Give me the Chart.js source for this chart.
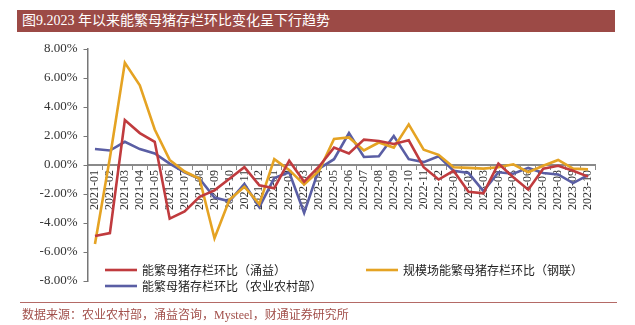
<!DOCTYPE html>
<html>
<head>
<meta charset="utf-8">
<script src="https://cdn.jsdelivr.net/npm/chart.js"></script>
<style>
    body { margin: 0; background: #fff; }
    #wrap { position: relative; width: 635px; height: 325px; overflow: hidden; }
    #chart { position: absolute; left: 0; top: 0; }
    #title {
        position: absolute; left: 17px; top: 10px; width: 598px; height: 22px;
        background: #9C4A46; color: #fff;
        font: 14px "Liberation Serif", "Noto Sans CJK SC", serif;
        line-height: 22px; padding-left: 5px; box-sizing: border-box;
    }
    #source {
        position: absolute; left: 20px; top: 302px; width: 595px;
        border-top: 1px solid #B46A66; color: #A2504B;
        font: 12px "Liberation Serif", "Noto Sans CJK SC", serif;
        padding-top: 2px; padding-left: 2px;
    }
</style>
</head>
<body>
<div id="wrap">
    <canvas id="chart" width="635" height="325"></canvas>
    <div id="title">图9.2023 年以来能繁母猪存栏环比变化呈下行趋势</div>
    <div id="source">数据来源：农业农村部，涌益咨询，Mysteel，财通证券研究所</div>
</div>
<script>
// months 2021-01 .. 2023-10
const months = [
    '2021-01','2021-02','2021-03','2021-04','2021-05','2021-06','2021-07','2021-08','2021-09','2021-10','2021-11','2021-12',
    '2022-01','2022-02','2022-03','2022-04','2022-05','2022-06','2022-07','2022-08','2022-09','2022-10','2022-11','2022-12',
    '2023-01','2023-02','2023-03','2023-04','2023-05','2023-06','2023-07','2023-08','2023-09','2023-10'
];

// 能繁母猪存栏环比（涌益）, %
const yongyi = [
    -4.9, -4.7, 3.1, 2.2, 1.6, -3.7, -3.2, -2.2, -1.75, -0.95, -0.15, -1.4,
    -1.6, 0.3, -1.15, -0.1, 1.2, 0.8, 1.75, 1.65, 1.45, 1.7, -0.15, -1.0,
    -0.4, -1.85, -1.95, 0.1, -0.85, -1.7, -0.25, -0.05, -0.4, -0.8
];

// 规模场能繁母猪存栏环比（钢联）, %
const ganglian = [
    -5.45, 0.5, 7.05, 5.5, 2.45, 0.35, -0.45, -0.95, -5.05, -2.4, -1.5, -2.7,
    0.4, -0.35, -1.35, -0.4, 1.8, 1.9, 1.0, 1.55, 1.2, 2.8, 1.05, 0.7,
    -0.15, -0.2, -0.25, -0.15, 0.05, -0.5, -0.05, 0.35, -0.25, -0.3
];

// 能繁母猪存栏环比（农业农村部）, %
const nongyebu = [
    1.1, 1.0, 1.6, 1.1, 0.8, 0.1, -0.5, -0.95, -2.25, -2.5, -1.3, -2.9,
    -0.9, -0.5, -3.3, -0.25, 0.4, 2.2, 0.55, 0.6, 2.0, 0.4, 0.2, 0.6,
    -0.4, -0.55, -1.8, -0.5, -0.6, -0.2, -0.55, -0.65, -1.25, -0.7
];

const yTicks = [-8, -6, -4, -2, 0, 2, 4, 6, 8];

const serif = '"Liberation Serif", "Times New Roman", serif';
const cjk = '"Noto Sans CJK SC", sans-serif';

function makeDataset(label, data, color) {
    return {
        label: label,
        data: data,
        borderColor: color,
        backgroundColor: color,
        borderWidth: 2.6,
        pointRadius: 0,
        tension: 0
    };
}

// legend drawn inside the plot, two columns like the original
const innerLegend = {
    id: 'innerLegend',
    afterDraw(chart) {
        const ctx = chart.ctx;
        const spots = [
            { x: 105, y: 270 },
            { x: 366, y: 270 },
            { x: 105, y: 286 }
        ];
        ctx.save();
        ctx.font = '12px ' + cjk;
        ctx.textBaseline = 'middle';
        chart.data.datasets.forEach((ds, i) => {
            let p = spots[i];
            ctx.strokeStyle = ds.borderColor;
            ctx.lineWidth = 2.6;
            ctx.beginPath();
            ctx.moveTo(p.x, p.y);
            ctx.lineTo(p.x + 32, p.y);
            ctx.stroke();
            ctx.fillStyle = '#222';
            ctx.fillText(ds.label, p.x + 37, p.y);
        });
        ctx.restore();
    }
};

const chart = new Chart(document.getElementById('chart'), {
    type: 'line',
    data: {
        labels: months,
        datasets: [
            makeDataset('能繁母猪存栏环比（涌益）', yongyi, '#C03B3E'),
            makeDataset('规模场能繁母猪存栏环比（钢联）', ganglian, '#E5A323'),
            makeDataset('能繁母猪存栏环比（农业农村部）', nongyebu, '#5A5EA4')
        ]
    },
    options: {
        responsive: false,
        animation: false,
        layout: {
            padding: { left: 0, right: 39.5, top: 49, bottom: 44 }
        },
        plugins: {
            legend: { display: false },
            title: { display: false },
            tooltip: { enabled: false }
        },
        scales: {
            x: {
                type: 'category',
                offset: true,
                position: { y: 0 },
                border: { display: true, color: '#8A8A8A', width: 2 },
                grid: {
                    display: true,
                    offset: true,
                    drawOnChartArea: false,
                    drawTicks: true,
                    tickLength: 4,
                    color: '#8A8A8A'
                },
                ticks: {
                    autoSkip: false,
                    minRotation: 90,
                    maxRotation: 90,
                    padding: 1,
                    color: '#333',
                    font: { family: serif, size: 12 }
                }
            },
            y: {
                min: -8,
                max: 8,
                afterFit(scale) { scale.width = 87.5; },
                afterBuildTicks(scale) {
                    scale.ticks = yTicks.map(v => ({ value: v }));
                },
                border: { display: true, color: '#777', width: 1.5 },
                grid: {
                    display: true,
                    drawOnChartArea: false,
                    drawTicks: true,
                    tickLength: 4,
                    color: '#777'
                },
                ticks: {
                    padding: 6,
                    color: '#333',
                    font: { family: serif, size: 13 },
                    callback: v => v.toFixed(2) + '%'
                }
            }
        }
    },
    plugins: [innerLegend]
});
</script>
</body>
</html>
